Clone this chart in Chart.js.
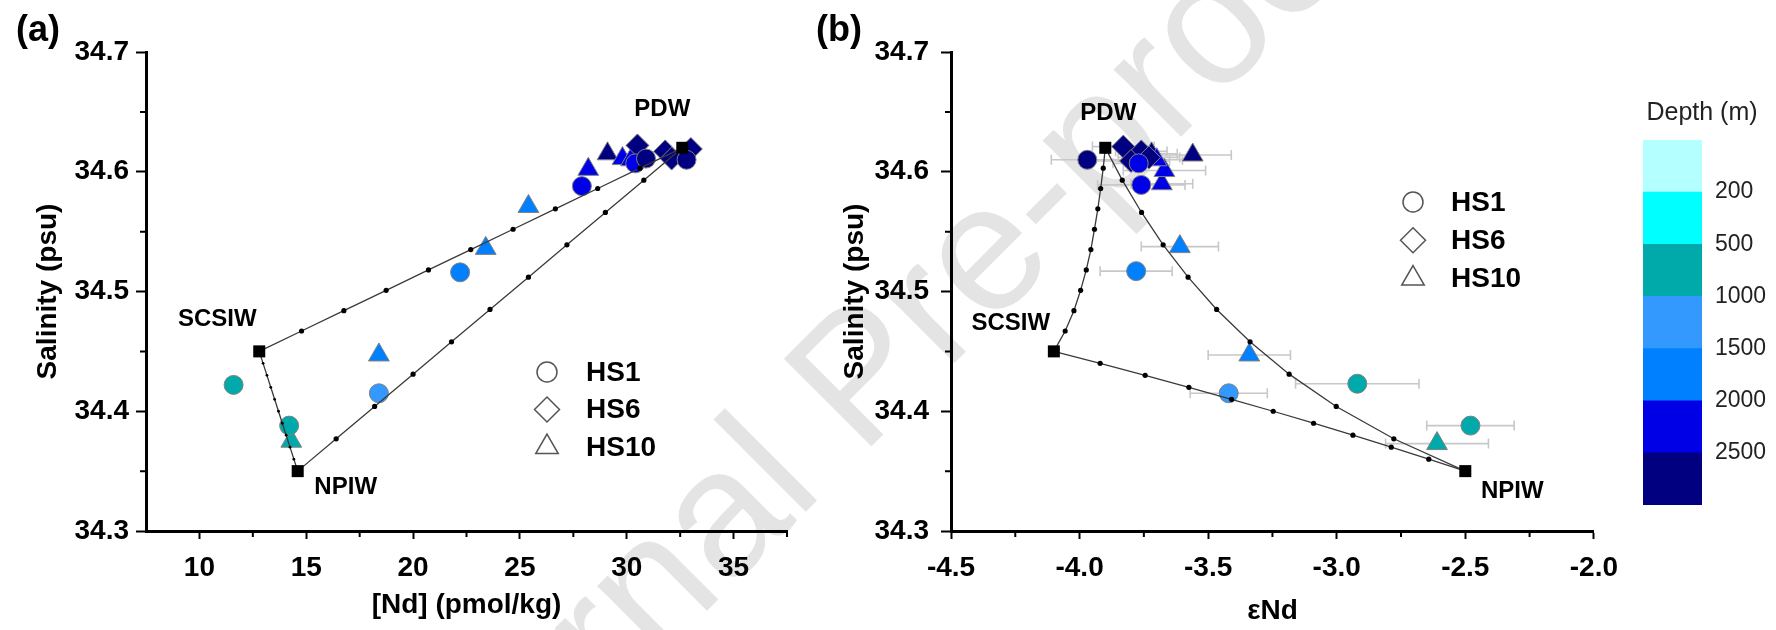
<!DOCTYPE html>
<html>
<head>
<meta charset="utf-8">
<title>Salinity vs Nd and eNd</title>
<script src="https://cdn.jsdelivr.net/npm/chart.js@4.4.1/dist/chart.umd.min.js"></script>
<style>
  html, body { margin: 0; padding: 0; background: #fff; }
  #wrap { position: relative; width: 1776px; height: 630px; overflow: hidden; }
  #wrap canvas { position: absolute; top: 0; }
  #wm {
    position: absolute; left: 856px; top: 374px;
    transform: translate(-50%, -50%) rotate(-45deg);
    font: 180px "Liberation Sans", Arial, sans-serif;
    color: #e4e4e4; white-space: nowrap; line-height: 1;
  }
</style>
</head>
<body>
<div id="wrap">
  <div id="wm">Journal Pre-proof</div>
  <canvas id="chartA" width="800" height="630" style="left:0"></canvas>
  <canvas id="chartB" width="830" height="630" style="left:800px"></canvas>
  <canvas id="depthBar" width="176" height="630" style="left:1600px"></canvas>
</div>
<script>
// depth classes, shallow -> deep
const depthColors = ['#b4ffff', '#00ffff', '#00aaaa', '#3399ff', '#0080ff', '#0000e6', '#000080'];
const depthTicks = ['200', '500', '1000', '1500', '2000', '2500'];

// end-members: PDW, SCSIW, NPIW
const endNames = ['PDW', 'SCSIW', 'NPIW'];
const endNd = [32.6, 12.8, 14.6];
const endEps = [-3.9, -4.1, -2.5];
const endSal = [34.62, 34.45, 34.35];

// mixing lines, dots every 10 %
const mixScsPdw_nd = [12.8, 14.78, 16.76, 18.74, 20.72, 22.70, 24.68, 26.66, 28.64, 30.62, 32.6];
const mixScsPdw_eps = [-4.1, -4.056, -4.022, -3.996, -3.974, -3.956, -3.942, -3.929, -3.918, -3.908, -3.9];
const mixScsPdw_sal = [34.45, 34.467, 34.484, 34.501, 34.518, 34.535, 34.552, 34.569, 34.586, 34.603, 34.62];
const mixNpiPdw_nd = [14.6, 16.4, 18.2, 20.0, 21.8, 23.6, 25.4, 27.2, 29.0, 30.8, 32.6];
const mixNpiPdw_eps = [-2.5, -2.778, -3.002, -3.185, -3.337, -3.467, -3.578, -3.675, -3.759, -3.834, -3.9];
const mixNpiPdw_sal = [34.35, 34.377, 34.404, 34.431, 34.458, 34.485, 34.512, 34.539, 34.566, 34.593, 34.62];
const mixScsNpi_nd = [12.8, 12.98, 13.16, 13.34, 13.52, 13.70, 13.88, 14.06, 14.24, 14.42, 14.6];
const mixScsNpi_eps = [-4.1, -3.920, -3.745, -3.575, -3.409, -3.247, -3.090, -2.937, -2.788, -2.642, -2.5];
const mixScsNpi_sal = [34.45, 34.44, 34.43, 34.42, 34.41, 34.40, 34.39, 34.38, 34.37, 34.36, 34.35];

// samples, panel (a): [Nd] vs salinity
const hs1_nd = [11.6, 14.2, 18.4, 22.2, 27.9, 30.4, 30.9, 32.8];
const hs1_salA = [34.422, 34.388, 34.415, 34.516, 34.588, 34.607, 34.611, 34.610];
const hs1_bandA = [2, 2, 3, 4, 5, 5, 6, 6];
const hs6_nd = [30.5, 31.8, 32.1, 33.0];
const hs6_salA = [34.622, 34.617, 34.611, 34.619];
const hs6_bandA = [6, 6, 6, 6];
const hs10_nd = [14.3, 18.4, 23.4, 25.4, 28.2, 29.1, 29.8, 30.2];
const hs10_salA = [34.375, 34.447, 34.536, 34.571, 34.602, 34.615, 34.611, 34.610];
const hs10_bandA = [2, 4, 4, 4, 5, 6, 5, 5];

// samples, panel (b): eNd (+/- 2sd) vs salinity
const hs1_eps = [-2.92, -2.48, -3.42, -3.78, -3.76, -3.77, -3.97];
const hs1_epsErr = [0.24, 0.17, 0.15, 0.14, 0.17, 0.10, 0.14];
const hs1_salB = [34.423, 34.388, 34.415, 34.517, 34.589, 34.607, 34.610];
const hs1_bandB = [2, 2, 3, 4, 5, 5, 6];
const hs6_eps = [-3.83, -3.76, -3.80, -3.73];
const hs6_epsErr = [0.12, 0.10, 0.15, 0.12];
const hs6_salB = [34.621, 34.617, 34.609, 34.612];
const hs6_bandB = [6, 6, 6, 6];
const hs10_eps = [-2.61, -3.34, -3.61, -3.68, -3.67, -3.72, -3.70, -3.56];
const hs10_epsErr = [0.20, 0.16, 0.15, 0.12, 0.16, 0.10, 0.10, 0.15];
const hs10_salB = [34.373, 34.447, 34.5375, 34.590, 34.601, 34.615, 34.610, 34.614];
const hs10_bandB = [2, 4, 4, 5, 5, 6, 5, 6];

// axes
const salTicks = [34.3, 34.4, 34.5, 34.6, 34.7];
const salMinor = [34.35, 34.45, 34.55, 34.65];
const ndTicks = [10, 15, 20, 25, 30, 35];
const ndMinor = [12.5, 17.5, 22.5, 27.5, 32.5, 37.5];
const epsTicks = [-4.5, -4.0, -3.5, -3.0, -2.5, -2.0];
const epsMinor = [-4.25, -3.75, -3.25, -2.75, -2.25];

const keyNames = ['HS1', 'HS6', 'HS10'];
const keyStyles = ['circle', 'rectRot', 'triangle'];

const FONT = '"Liberation Sans", Arial, sans-serif';
const tickFont = { family: FONT, size: 28, weight: 'bold' };
const titleFont = { family: FONT, size: 28, weight: 'bold' };

function markerSet(label, style, radius, xs, ys, bands, errs) {
  return {
    label: label,
    data: xs.map((x, i) => ({ x: x, y: ys[i] })),
    pointStyle: style,
    pointRadius: radius,
    pointHoverRadius: radius,
    pointBackgroundColor: bands.map(b => depthColors[b]),
    pointBorderColor: '#808080',
    pointBorderWidth: 1,
    showLine: false,
    errX: errs || null
  };
}

function mixLine(xs, ys, dotRadius) {
  return {
    data: xs.map((x, i) => ({ x: x, y: ys[i] })),
    showLine: true,
    borderColor: '#3a3a3a',
    borderWidth: 1.3,
    pointRadius: xs.map((x, i) => (i === 0 || i === xs.length - 1) ? 0 : dotRadius),
    pointHoverRadius: 0,
    pointBackgroundColor: '#000',
    pointBorderWidth: 0,
    tension: 0
  };
}

function endSquares(xs) {
  return {
    data: xs.map((x, i) => ({ x: x, y: endSal[i] })),
    pointStyle: 'rect',
    pointRadius: 8.5,
    pointHoverRadius: 8.5,
    pointBackgroundColor: '#000',
    pointBorderWidth: 0,
    showLine: false
  };
}

// horizontal error bars, drawn under everything else
const errorBars = {
  id: 'errorBars',
  beforeDatasetsDraw(chart) {
    const ctx = chart.ctx, sx = chart.scales.x, sy = chart.scales.y;
    ctx.save();
    ctx.strokeStyle = '#c8c8c8';
    ctx.lineWidth = 1.6;
    chart.data.datasets.forEach(ds => {
      if (!ds.errX) return;
      ds.data.forEach((p, i) => {
        const y = sy.getPixelForValue(p.y);
        const x0 = sx.getPixelForValue(p.x - ds.errX[i]);
        const x1 = sx.getPixelForValue(p.x + ds.errX[i]);
        ctx.beginPath();
        ctx.moveTo(x0, y); ctx.lineTo(x1, y);
        ctx.moveTo(x0, y - 5); ctx.lineTo(x0, y + 5);
        ctx.moveTo(x1, y - 5); ctx.lineTo(x1, y + 5);
        ctx.stroke();
      });
    });
    ctx.restore();
  }
};

const minorTicks = {
  id: 'minorTicks',
  afterDraw(chart, args, opts) {
    const ctx = chart.ctx, a = chart.chartArea;
    ctx.save();
    ctx.strokeStyle = '#000';
    ctx.lineWidth = 2;
    ctx.beginPath();
    opts.x.forEach(v => {
      const px = chart.scales.x.getPixelForValue(v);
      ctx.moveTo(px, a.bottom); ctx.lineTo(px, a.bottom + 6);
    });
    opts.y.forEach(v => {
      const py = chart.scales.y.getPixelForValue(v);
      ctx.moveTo(a.left, py); ctx.lineTo(a.left - 6, py);
    });
    ctx.stroke();
    ctx.restore();
  }
};

const endLabels = {
  id: 'endLabels',
  afterDraw(chart, args, opts) {
    const ctx = chart.ctx;
    ctx.save();
    ctx.font = 'bold 24px ' + FONT;
    ctx.fillStyle = '#000';
    ctx.textAlign = 'center';
    ctx.textBaseline = 'middle';
    endNames.forEach((n, i) => {
      const x = chart.scales.x.getPixelForValue(opts.xs[i]) + opts.off[i][0];
      const y = chart.scales.y.getPixelForValue(endSal[i]) + opts.off[i][1];
      ctx.fillText(n, x, y);
    });
    ctx.restore();
  }
};

const stationKey = {
  id: 'stationKey',
  afterDraw(chart, args, opts) {
    const ctx = chart.ctx, a = chart.chartArea;
    const radii = [10, 12.5, 13];
    ctx.save();
    ctx.font = 'bold 28px ' + FONT;
    ctx.textBaseline = 'middle';
    keyNames.forEach((name, i) => {
      const x = a.left + opts.dx, y = a.top + opts.dy + i * opts.step;
      ctx.strokeStyle = '#555';
      ctx.fillStyle = '#fff';
      ctx.lineWidth = 1.5;
      Chart.helpers.drawPoint(ctx, { pointStyle: keyStyles[i], radius: radii[i], borderWidth: 1.5, rotation: 0 }, x, y);
      ctx.fillStyle = '#000';
      ctx.fillText(name, x + opts.gap, y + 1);
    });
    ctx.restore();
  }
};

const panelTag = {
  id: 'panelTag',
  afterDraw(chart, args, opts) {
    const ctx = chart.ctx;
    ctx.save();
    ctx.font = 'bold 36px ' + FONT;
    ctx.fillStyle = '#000';
    ctx.textAlign = 'center';
    ctx.textBaseline = 'middle';
    ctx.fillText(opts.text, opts.x, opts.y);
    ctx.restore();
  }
};

function axisX(min, max, ticks, fmt, title, titlePad) {
  return {
    type: 'linear', min: min, max: max,
    afterBuildTicks: s => { s.ticks = ticks.map(v => ({ value: v })); },
    afterFit: s => { s.height = 99; },
    ticks: { font: tickFont, color: '#000', padding: 12, autoSkip: false, maxRotation: 0, callback: fmt },
    grid: { drawOnChartArea: false, drawTicks: true, tickLength: 8, tickWidth: 2, tickColor: '#000' },
    border: { display: true, color: '#000', width: 3 },
    title: { display: true, text: title, font: titleFont, color: '#000', padding: { top: 0, bottom: titlePad } }
  };
}

function axisY(width, labelPad, titlePad) {
  return {
    type: 'linear', min: 34.3, max: 34.7,
    afterBuildTicks: s => { s.ticks = salTicks.map(v => ({ value: v })); },
    afterFit: s => { s.width = width; },
    ticks: { font: tickFont, color: '#000', padding: labelPad, autoSkip: false, callback: v => v.toFixed(1) },
    grid: { drawOnChartArea: false, drawTicks: true, tickLength: 10, tickWidth: 2, tickColor: '#000' },
    border: { display: true, color: '#000', width: 3 },
    title: { display: true, text: 'Salinity (psu)', font: titleFont, color: '#000', padding: { top: titlePad, bottom: 0 } }
  };
}

// (a) salinity vs [Nd]
new Chart(document.getElementById('chartA'), {
  type: 'scatter',
  data: {
    datasets: [
      endSquares(endNd),
      mixLine(mixScsPdw_nd, mixScsPdw_sal, 2.6),
      mixLine(mixNpiPdw_nd, mixNpiPdw_sal, 2.6),
      mixLine(mixScsNpi_nd, mixScsNpi_sal, 1.4),
      markerSet('HS1', 'circle', 9.5, hs1_nd, hs1_salA, hs1_bandA),
      markerSet('HS6', 'rectRot', 11.5, hs6_nd, hs6_salA, hs6_bandA),
      markerSet('HS10', 'triangle', 12, hs10_nd, hs10_salA, hs10_bandA)
    ]
  },
  options: {
    responsive: false,
    animation: false,
    events: [],
    layout: { padding: { left: 0, top: 52, right: 7, bottom: 0 } },
    scales: {
      x: axisX(7.5, 37.5, ndTicks, v => String(v), '[Nd] (pmol/kg)', 8),
      y: axisY(146, 7, 31)
    },
    plugins: {
      legend: { display: false },
      tooltip: { enabled: false },
      minorTicks: { x: ndMinor, y: salMinor },
      endLabels: { xs: endNd, off: [[-20, -38], [-42, -32], [48, 16]] },
      stationKey: { dx: 401, dy: 320, step: 37.5, gap: 39 },
      panelTag: { text: '(a)', x: 38, y: 31 }
    }
  },
  plugins: [errorBars, minorTicks, endLabels, stationKey, panelTag]
});

// (b) salinity vs eNd
new Chart(document.getElementById('chartB'), {
  type: 'scatter',
  data: {
    datasets: [
      endSquares(endEps),
      mixLine(mixScsPdw_eps, mixScsPdw_sal, 2.6),
      mixLine(mixNpiPdw_eps, mixNpiPdw_sal, 2.6),
      mixLine(mixScsNpi_eps, mixScsNpi_sal, 2.6),
      markerSet('HS1', 'circle', 9.5, hs1_eps, hs1_salB, hs1_bandB, hs1_epsErr),
      markerSet('HS6', 'rectRot', 11.5, hs6_eps, hs6_salB, hs6_bandB, hs6_epsErr),
      markerSet('HS10', 'triangle', 12, hs10_eps, hs10_salB, hs10_bandB, hs10_epsErr)
    ]
  },
  options: {
    responsive: false,
    animation: false,
    events: [],
    layout: { padding: { left: 0, top: 52, right: 33, bottom: 0 } },
    scales: {
      x: axisX(-4.5, -2.0, epsTicks, v => v.toFixed(1), '\u03B5Nd', 2),
      y: axisY(151, 12, 38)
    },
    plugins: {
      legend: { display: false },
      tooltip: { enabled: false },
      minorTicks: { x: epsMinor, y: salMinor },
      endLabels: { xs: endEps, off: [[3, -34], [-43, -28], [47, 20]] },
      stationKey: { dx: 462, dy: 150, step: 38.3, gap: 38 },
      panelTag: { text: '(b)', x: 39, y: 31 }
    }
  },
  plugins: [errorBars, minorTicks, endLabels, stationKey, panelTag]
});

// depth colour key, one stacked bar (deepest class at the bottom)
const depthTitle = {
  id: 'depthTitle',
  afterDraw(chart) {
    const ctx = chart.ctx, a = chart.chartArea;
    ctx.save();
    ctx.font = '25px ' + FONT;
    ctx.fillStyle = '#222';
    ctx.textAlign = 'center';
    ctx.textBaseline = 'middle';
    ctx.fillText('Depth (m)', a.right, a.top - 27);
    ctx.restore();
  }
};

new Chart(document.getElementById('depthBar'), {
  type: 'bar',
  data: {
    labels: [''],
    datasets: depthColors.slice().reverse().map(c => ({
      data: [1],
      backgroundColor: c,
      borderWidth: 0,
      barPercentage: 1,
      categoryPercentage: 1
    }))
  },
  options: {
    responsive: false,
    animation: false,
    events: [],
    layout: { padding: { left: 43, top: 140, right: 0, bottom: 125 } },
    scales: {
      x: { display: false, stacked: true },
      y: {
        stacked: true, position: 'right', min: 0, max: 7,
        afterBuildTicks: s => { s.ticks = depthTicks.map((t, i) => ({ value: 6 - i })); },
        afterFit: s => { s.width = 74; },
        ticks: { font: { family: FONT, size: 23 }, color: '#222', padding: 13, callback: v => depthTicks[6 - v] },
        grid: { display: false, drawTicks: false },
        border: { display: false }
      }
    },
    plugins: { legend: { display: false }, tooltip: { enabled: false } }
  },
  plugins: [depthTitle]
});
</script>
</body>
</html>
